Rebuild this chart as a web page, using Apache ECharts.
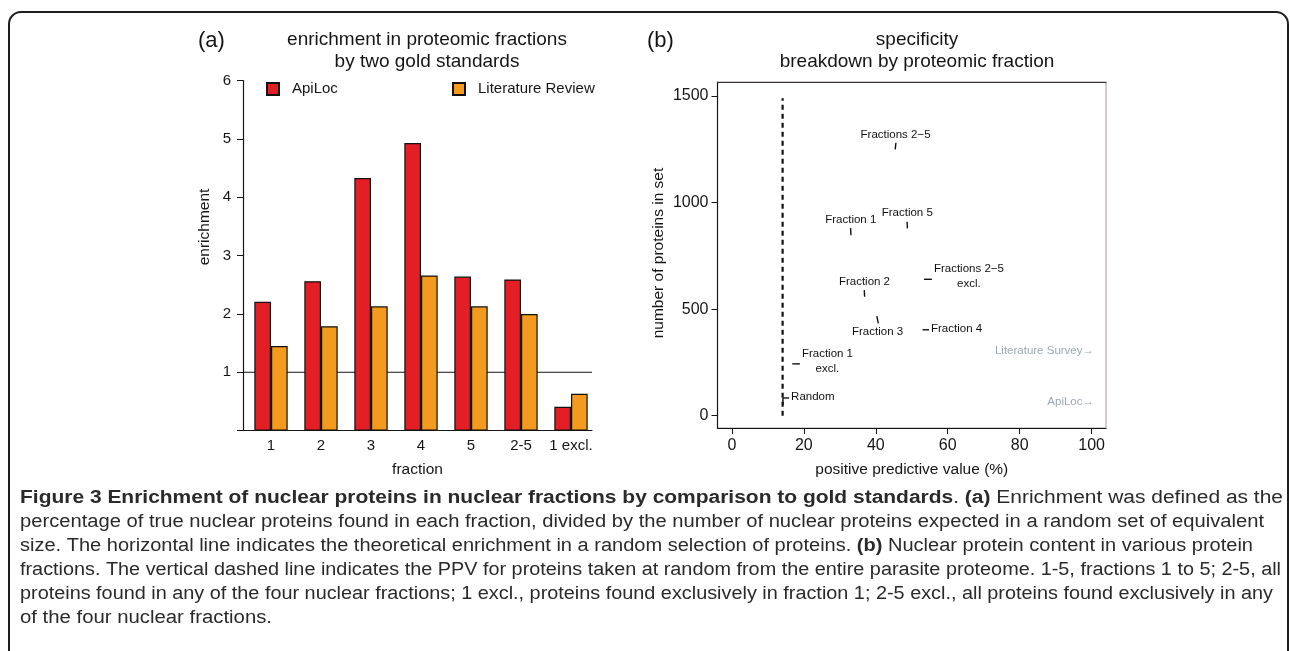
<!DOCTYPE html>
<html><head><meta charset="utf-8">
<script src="https://cdn.jsdelivr.net/npm/echarts@6/dist/echarts.min.js"></script>
<style>html,body{margin:0;padding:0;background:#fff}#c{width:1290px;height:651px}</style>
</head><body><div id="c"></div>
<script>
// ---------- panel (a) data ----------
const fractions = ['1', '2', '3', '4', '5', '2-5', '1 excl.'];
const fractionIndex = [0, 1, 2, 3, 4, 5, 6];
const apiLocEnrichment = [2.21, 2.56, 4.33, 4.93, 2.64, 2.59, 0.41];
const litReviewEnrichment = [1.45, 1.79, 2.13, 2.66, 2.13, 2.00, 0.63];
const randomEnrichment = 1;
const enrichTickLabels = [1, 2, 3, 4, 5, 6];
const enrichTicks = [0, 1, 2, 3, 4, 5, 6];

// ---------- panel (b) data ----------
const setLabels = ['Fractions 2\u22125', 'Fraction 1', 'Fraction 5', 'Fractions 2\u22125\nexcl.', 'Fraction 2',
  'Fraction 3', 'Fraction 4', 'Fraction 1\nexcl.', '', 'Random'];
const ppvFrom = [45.4, 33.1, 48.8, 53.4, 36.9, 40.3, 53.0, 16.8, 14.2, 14.2];
const ppvTo = [45.6, 33.0, 48.7, 55.6, 36.8, 40.7, 54.8, 18.9, 14.2, 15.9];
const countFrom = [1250, 847, 879, 640, 558, 467, 403, 243, 50, 83];
const countTo = [1280, 880, 910, 640, 589, 433, 403, 243, 83, 83];
const randomPPV = 14.1;
const randomLineCounts = [0, 1490];
const ppvTicks = [0, 20, 40, 60, 80, 100];
const countTicks = [0, 500, 1000, 1500];

// label placement (style, not data)
const labelPos = ['top', 'top', 'top', 'right', 'top', 'bottom', 'right', 'right', '', 'right'];

const FONT = '"Liberation Sans", Arial, Helvetica, sans-serif';
const CAPFONT = '"Liberation Sans", Arial, sans-serif';
const INK = '#151515';

const cv = document.createElement('canvas').getContext('2d');
function measure(txt, font) { cv.font = font; return cv.measureText(txt).width; }

const chart = echarts.init(document.getElementById('c'), null, { renderer: 'canvas' });

// caption
const capLines = [
  [['b', 'Figure 3 Enrichment of nuclear proteins in nuclear fractions by comparison to gold standards'], ['r', '. '], ['b', '(a)'], ['r', ' Enrichment was defined as the']],
  [['r', 'percentage of true nuclear proteins found in each fraction, divided by the number of nuclear proteins expected in a random set of equivalent']],
  [['r', 'size. The horizontal line indicates the theoretical enrichment in a random selection of proteins. '], ['b', '(b)'], ['r', ' Nuclear protein content in various protein']],
  [['r', 'fractions. The vertical dashed line indicates the PPV for proteins taken at random from the entire parasite proteome. 1-5, fractions 1 to 5; 2-5, all']],
  [['r', 'proteins found in any of the four nuclear fractions; 1 excl., proteins found exclusively in fraction 1; 2-5 excl., all proteins found exclusively in any']],
  [['r', 'of the four nuclear fractions.']]
];
const capRightEdges = [1283, 1264, 1253, 1281, 1273, 272];
const capLeft = 20;
const capSize = 18;
function capWidth(line) {
  return line.reduce((s, p) => s + measure(p[1], (p[0] === 'b' ? 'bold ' : '') + capSize + 'px ' + CAPFONT), 0);
}
const capGraphics = capLines.map((line, i) => ({
  type: 'text', x: capLeft, y: 498 + i * 24, scaleX: (capRightEdges[i] - capLeft) / capWidth(line), scaleY: 1,
  style: {
    text: line.map(p => p[0] === 'b' ? '{b|' + p[1] + '}' : '{r|' + p[1] + '}').join(''),
    rich: {
      b: { fontWeight: 'bold', fontSize: capSize, fontFamily: CAPFONT, fill: '#2a2a2a' },
      r: { fontWeight: 'normal', fontSize: capSize, fontFamily: CAPFONT, fill: '#2a2a2a' }
    },
    verticalAlign: 'middle', align: 'left'
  }
}));

const option = {
  animation: false,
  textStyle: { fontFamily: FONT },
  title: [
    { text: 'enrichment in proteomic fractions\nby two gold standards', left: 427, top: 29, textAlign: 'center', padding: 0,
      textStyle: { fontSize: 19, fontWeight: 'normal', color: INK, lineHeight: 22, fontFamily: FONT } },
    { text: 'specificity\nbreakdown by proteomic fraction', left: 917, top: 29, textAlign: 'center', padding: 0,
      textStyle: { fontSize: 19, fontWeight: 'normal', color: INK, lineHeight: 22, fontFamily: FONT } }
  ],
  legend: [
    { data: ['ApiLoc'], left: 266, top: 81.5, padding: 0, icon: 'rect', itemWidth: 12, itemHeight: 12,
      textStyle: { fontSize: 15, color: INK, padding: [0, 0, 0, 8], fontFamily: FONT }, selectedMode: false },
    { data: ['Literature Review'], left: 452, top: 81.5, padding: 0, icon: 'rect', itemWidth: 12, itemHeight: 12,
      textStyle: { fontSize: 15, color: INK, padding: [0, 0, 0, 8], fontFamily: FONT }, selectedMode: false }
  ],
  grid: [
    { left: 243, top: 80.6, width: 349, height: 350 },
    { left: 717.5, top: 82, width: 388.5, height: 346, show: true, borderColor: '#a89a9a', borderWidth: 1 }
  ],
  xAxis: [
    { type: 'value', gridIndex: 0, min: -0.56, max: 6.42,
      name: 'fraction', nameLocation: 'middle', nameGap: 31, nameTextStyle: { fontSize: 15.5, color: INK },
      axisLine: { show: true, onZero: false, lineStyle: { color: INK, width: 1.2 } }, axisTick: { show: false },
      splitLine: { show: false },
      axisLabel: { customValues: fractionIndex, formatter: v => fractions[v], fontSize: 15, color: INK, margin: 8 } },
    { type: 'value', gridIndex: 1, min: -4, max: 104,
      name: 'positive predictive value (%)', nameLocation: 'middle', nameGap: 34, nameTextStyle: { fontSize: 15.5, color: INK },
      axisLine: { show: true, onZero: false, lineStyle: { color: INK, width: 1.2 } },
      axisTick: { show: true, customValues: ppvTicks, length: 6, lineStyle: { color: INK } },
      splitLine: { show: false },
      axisLabel: { customValues: ppvTicks, formatter: v => String(v), fontSize: 16, color: INK, margin: 10 } },
    { type: 'value', gridIndex: 1, position: 'top', min: -4, max: 104,
      axisLine: { show: true, onZero: false, lineStyle: { color: '#333', width: 1.2 } }, axisTick: { show: false },
      axisLabel: { show: false }, splitLine: { show: false } }
  ],
  yAxis: [
    { type: 'value', gridIndex: 0, min: 0, max: 6,
      axisLine: { show: true, onZero: false, lineStyle: { color: INK, width: 1.2 } },
      axisTick: { show: true, customValues: enrichTicks, length: 6, lineStyle: { color: INK } },
      splitLine: { show: false },
      axisLabel: { customValues: enrichTickLabels, formatter: v => String(v), fontSize: 15, color: INK, margin: 12 } },
    { type: 'value', gridIndex: 1, min: -58, max: 1566,
      axisLine: { show: true, onZero: false, lineStyle: { color: INK, width: 1.2 } },
      axisTick: { show: true, customValues: countTicks, length: 6, lineStyle: { color: INK } },
      splitLine: { show: false },
      axisLabel: { customValues: countTicks, formatter: v => String(v), fontSize: 16, color: INK, margin: 9 } }
  ],
  series: [
    { name: 'random', type: 'line', xAxisIndex: 0, yAxisIndex: 0, z: 1, symbol: 'none', silent: true,
      data: [[-0.56, randomEnrichment], [6.42, randomEnrichment]], lineStyle: { color: INK, width: 1.2 } },
    { name: 'ApiLoc', type: 'bar', xAxisIndex: 0, yAxisIndex: 0, z: 3, barWidth: 16.67, barGap: '0%',
      data: apiLocEnrichment.map((v, i) => [fractionIndex[i], v]),
      itemStyle: { color: '#e41e25', borderColor: '#111', borderWidth: 1.2 } },
    { name: 'Literature Review', type: 'bar', xAxisIndex: 0, yAxisIndex: 0, z: 3, barWidth: 16.67, barGap: '0%',
      data: litReviewEnrichment.map((v, i) => [fractionIndex[i], v]),
      itemStyle: { color: '#f49a1f', borderColor: '#111', borderWidth: 1.2 } },
    { name: 'randomPPV', type: 'line', xAxisIndex: 1, yAxisIndex: 1, symbol: 'none', silent: true,
      data: randomLineCounts.map(c => [randomPPV, c]),
      lineStyle: { color: '#111', width: 2.2, type: [5, 4] } },
    { name: 'sets', type: 'custom', xAxisIndex: 1, yAxisIndex: 1, silent: true,
      data: ppvFrom.map((v, i) => [v, countFrom[i], ppvTo[i], countTo[i]]),
      encode: { x: [0, 2], y: [1, 3] },
      renderItem: function (params, api) {
        const i = params.dataIndex;
        const p1 = api.coord([api.value(0), api.value(1)]);
        const p2 = api.coord([api.value(2), api.value(3)]);
        const children = [{ type: 'line', shape: { x1: p1[0], y1: p1[1], x2: p2[0], y2: p2[1] },
          style: { stroke: '#111', lineWidth: 1.4 } }];
        const lab = setLabels[i], pos = labelPos[i];
        if (lab) {
          let x, y, align = 'center', va = 'middle';
          const f = '11.5px ' + FONT;
          if (pos === 'top') { x = (p1[0] + p2[0]) / 2; y = Math.min(p1[1], p2[1]) - 1; va = 'bottom'; }
          else if (pos === 'bottom') { x = (p1[0] + p2[0]) / 2; y = Math.max(p1[1], p2[1]) + 0.5; va = 'top'; }
          else {
            const lines = lab.split('\n');
            const w = Math.max.apply(null, lines.map(t => measure(t, f)));
            x = Math.max(p1[0], p2[0]) + 2 + w / 2;
            y = (p1[1] + p2[1]) / 2 - (lines.length > 1 ? 3 : 1);
          }
          children.push({ type: 'text', style: { text: lab, x: x, y: y, align: align, verticalAlign: va,
            fontSize: 11.5, fontFamily: FONT, fill: '#111', lineHeight: 15 } });
        }
        return { type: 'group', children: children };
      } }
  ],
  graphic: [
    { type: 'rect', shape: { x: 9, y: 12, width: 1279, height: 700, r: 12 }, style: { fill: 'none', stroke: '#1e1e1e', lineWidth: 2 }, silent: true },
    { type: 'text', x: 198, y: 41, style: { text: '(a)', fontSize: 22, fontFamily: FONT, fill: INK, verticalAlign: 'middle', align: 'left' } },
    { type: 'text', x: 647, y: 41, style: { text: '(b)', fontSize: 22, fontFamily: FONT, fill: INK, verticalAlign: 'middle', align: 'left' } },
    { type: 'text', x: 205, y: 227, rotation: Math.PI / 2, style: { text: 'enrichment', fontSize: 15.5, fontFamily: FONT, fill: INK, verticalAlign: 'middle', align: 'center' } },
    { type: 'text', x: 659, y: 253, rotation: Math.PI / 2, style: { text: 'number of proteins in set', fontSize: 15.5, fontFamily: FONT, fill: INK, verticalAlign: 'middle', align: 'center' } },
    { type: 'text', x: 1094, y: 351, style: { text: 'Literature Survey\u2192', fontSize: 11.5, fontFamily: FONT, fill: '#9ca7b1', verticalAlign: 'middle', align: 'right' } },
    { type: 'text', x: 1094, y: 402, style: { text: 'ApiLoc\u2192', fontSize: 11.5, fontFamily: FONT, fill: '#9ca7b1', verticalAlign: 'middle', align: 'right' } }
  ].concat(capGraphics)
};
chart.setOption(option);
</script></body></html>
